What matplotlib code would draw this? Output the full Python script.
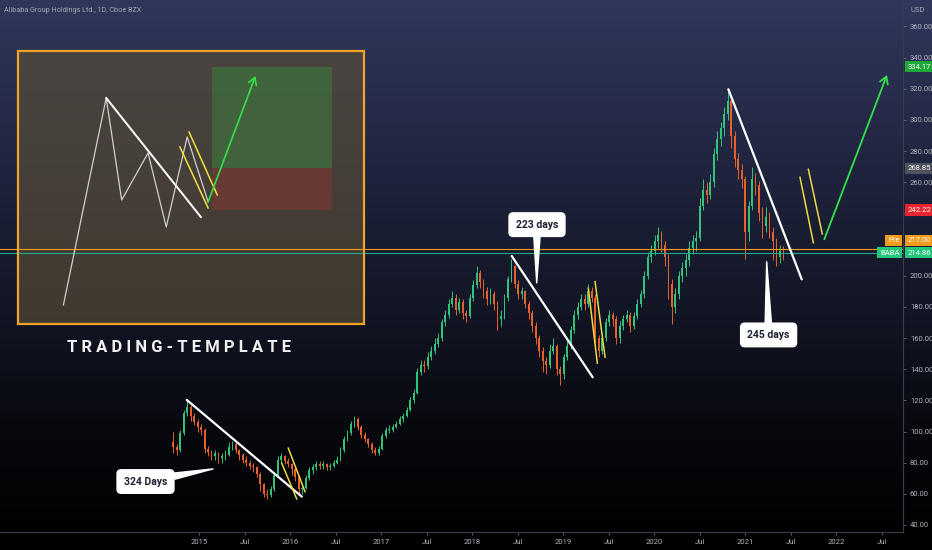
import numpy as np
import pandas as pd
import matplotlib
matplotlib.use("Agg")
import matplotlib.pyplot as plt
from matplotlib.colors import LinearSegmentedColormap
from matplotlib.patches import Rectangle
import matplotlib.transforms as mtransforms

plt.rcParams['font.family'] = ['Roboto', 'DejaVu Sans']

# ---------------- data ----------------
title = "Alibaba Group Holdings Ltd., 1D, Cboe BZX"
dates = pd.date_range("2014-09-19", periods=176, freq="14D")
first_open = 93.0
closes = [90, 88, 99, 112, 116, 110, 106, 103, 101, 89,
          87, 84, 86, 83, 84, 85, 90, 92, 88, 85,
          82, 80, 78, 77, 73, 66, 60, 59, 63, 72,
          82, 84, 81, 79, 76, 71, 63, 64, 70, 75,
          77, 79, 78, 79, 77, 78, 80, 82, 88, 95,
          99, 105, 108, 103, 98, 95, 92, 88, 86, 89,
          97, 101, 101, 103, 105, 108, 110, 114, 120, 125,
          138, 143, 142, 148, 152, 156, 160, 170, 175, 182,
          186, 178, 183, 176, 174, 186, 194, 202, 196, 190,
          185, 188, 182, 172, 174, 186, 198, 206, 195, 188,
          190, 182, 176, 168, 160, 152, 145, 143, 152, 155,
          140, 137, 148, 155, 165, 175, 180, 185, 182, 190,
          186, 160, 152, 160, 170, 175, 172, 160, 168, 172,
          175, 168, 174, 182, 188, 200, 212, 216, 222, 226,
          220, 212, 195, 180, 188, 200, 205, 210, 218, 222,
          224, 245, 255, 252, 260, 278, 288, 295, 304, 312,
          290, 275, 268, 262, 228, 245, 262, 258, 240, 232,
          238, 228, 222, 212, 216, 214.86]
highs = [100, 92, 101, 114, 120, 117, 112, 108, 105, 102,
         91, 88, 88, 87, 86, 88, 93, 94, 93, 89,
         86, 84, 82, 80, 78, 74, 67, 63, 65, 74,
         84, 86, 85, 83, 80, 77, 72, 67, 72, 77,
         79, 81, 81, 81, 80, 80, 82, 84, 90, 97,
         101, 107, 110, 109, 104, 100, 96, 93, 90, 91,
         99, 103, 104, 105, 107, 110, 112, 116, 122, 127,
         141, 146, 146, 151, 155, 160, 163, 172, 178, 185,
         190, 188, 186, 185, 178, 188, 197, 206, 204, 198,
         193, 192, 190, 184, 178, 188, 200, 211, 207, 197,
         193, 191, 184, 178, 170, 162, 154, 148, 156, 160,
         156, 142, 150, 158, 168, 178, 183, 188, 188, 195,
         193, 188, 162, 163, 173, 178, 177, 174, 171, 175,
         178, 177, 177, 185, 191, 203, 215, 220, 226, 231,
         229, 222, 214, 198, 192, 203, 209, 214, 222, 226,
         229, 250, 262, 260, 265, 282, 293, 299, 308, 319,
         314, 293, 279, 272, 264, 248, 270, 266, 261, 244,
         244, 241, 231, 224, 220, 219]
lows = [86, 85, 87, 98, 110, 107, 104, 100, 98, 86,
        84, 82, 82, 80, 80, 82, 84, 88, 86, 82,
        80, 78, 76, 74, 71, 62, 58, 57, 58, 62,
        71, 80, 79, 77, 72, 68, 59, 60, 63, 69,
        73, 75, 76, 76, 75, 75, 77, 79, 81, 87,
        94, 98, 103, 101, 96, 93, 90, 86, 85, 85,
        88, 96, 99, 100, 102, 104, 106, 109, 113, 118,
        124, 136, 138, 140, 146, 150, 154, 158, 168, 173,
        180, 175, 176, 172, 170, 173, 184, 192, 192, 186,
        181, 182, 178, 165, 168, 172, 184, 196, 192, 185,
        185, 179, 172, 164, 156, 148, 138, 137, 141, 150,
        136, 130, 134, 146, 153, 163, 172, 178, 178, 180,
        183, 155, 148, 150, 158, 168, 168, 156, 157, 165,
        170, 164, 166, 172, 180, 186, 198, 209, 213, 218,
        215, 206, 185, 169, 176, 185, 196, 200, 206, 214,
        216, 222, 242, 247, 249, 257, 274, 283, 290, 300,
        282, 270, 262, 256, 211, 222, 242, 252, 235, 224,
        228, 224, 210, 206, 208, 210]

price_ticks = list(range(40, 361, 20))
hidden_price_labels = [220, 240]   # covered by the price tags in the reference
time_ticks = [2015, 2015.5, 2016, 2016.5, 2017, 2017.5, 2018, 2018.5,
              2019, 2019.5, 2020, 2020.5, 2021, 2021.5, 2022, 2022.5]
time_labels = ["2015", "Jul", "2016", "Jul", "2017", "Jul", "2018", "Jul",
               "2019", "Jul", "2020", "Jul", "2021", "Jul", "2022", "Jul"]

# price tags (right scale)
target_price = 334.17
entry_price = 268.85
stop_price = 242.22
pre_price = 217.00
last_price = 214.86
symbol = "BABA"

# drawings (decimal year, price)
trend_lines = [([2014.865, 2016.129], [120.3, 58.2]),
               ([2018.436, 2019.326], [212.7, 134.8]),
               ([2020.817, 2021.623], [319.7, 197.7])]
yellow_lines = [([2015.909, 2016.074], [79.6, 56.7]),
                ([2015.981, 2016.165], [89.3, 61.4]),
                ([2019.278, 2019.377], [192.0, 143.8]),
                ([2019.352, 2019.462], [196.2, 147.7]),
                ([2021.604, 2021.751], [263.2, 221.2]),
                ([2021.696, 2021.849], [268.3, 226.8])]
big_arrow = ([2021.871, 2022.560], [223.4, 328.9])

callouts = [("324 Days", (2014.412, 67.9), (2015.154, 76.0)),
            ("223 days", (2018.714, 232.8), (2018.711, 195.4)),
            ("245 days", (2021.259, 162.0), (2021.238, 209.0))]

# trading template
tmpl_t = [2013.01, 2016.81]
tmpl_p = [169.0, 344.3]
tmpl_path_t = [2013.51, 2013.98, 2014.15, 2014.44, 2014.64, 2014.87, 2015.10]
tmpl_path_p = [181.3, 314.1, 248.6, 278.8, 231.3, 289.1, 247.4]
tmpl_trend = ([2013.98, 2015.02], [314.1, 237.7])
tmpl_yellow = [([2014.79, 2015.10], [282.7, 243.5]),
               ([2014.89, 2015.20], [292.3, 251.9])]
tmpl_arrow = ([2015.10, 2015.62], [247.4, 328.2])
tmpl_pos_t = [2015.14, 2016.46]
tmpl_label = "T R A D I N G - T E M P L A T E"
tmpl_label_pos = (2014.78, 154.0)

# ---------------- figure ----------------
W, H = 932, 550
fig = plt.figure(figsize=(W / 100, H / 100), dpi=100)

bg = fig.add_axes([0, 0, 1, 1], zorder=-10)
bg.axis('off')
cmap = LinearSegmentedColormap.from_list(
    'bg', [(0.0, '#30375c'), (0.45, '#181c30'), (0.8, '#07080d'), (1.0, '#000000')])
grad = np.linspace(0, 1, 256).reshape(-1, 1)
bg.imshow(grad, cmap=cmap, aspect='auto', extent=(0, 1, 0, 1), origin='upper')
bg.set_xlim(0, 1)
bg.set_ylim(0, 1)

ax = fig.add_axes([0, 18 / H, 903 / W, 532 / H], zorder=1)
ax.set_facecolor('none')
ax.set_xlim(2012.813, 2022.736)
ax.set_ylim(35.5, 377.0)

# candles
tyear = np.array([d.year + (d.dayofyear - 1) / (366 if d.is_leap_year else 365) for d in dates])
opens = [first_open] + closes[:-1]
up_c, dn_c = '#33c27a', '#e8602c'
for t, o, h, l, c in zip(tyear, opens, highs, lows, closes):
    col = up_c if c >= o else dn_c
    ax.vlines(t, min(l, o, c), max(h, o, c), color=col, lw=0.7, zorder=3)
    ax.bar(t, max(abs(c - o), 0.4), bottom=min(o, c), width=0.02, color=col,
           lw=0, zorder=3)

# horizontal price lines
ax.axhline(pre_price, color='#f59a1e', lw=0.8, zorder=6)
ax.axhline(last_price, color='#1fa98a', lw=0.8, zorder=6)

# template
ax.add_patch(Rectangle((tmpl_t[0], tmpl_p[0]), tmpl_t[1] - tmpl_t[0], tmpl_p[1] - tmpl_p[0],
                       facecolor='#5e5137', alpha=0.62, edgecolor='none', zorder=4))
ax.add_patch(Rectangle((tmpl_t[0], tmpl_p[0]), tmpl_t[1] - tmpl_t[0], tmpl_p[1] - tmpl_p[0],
                       facecolor='none', edgecolor='#f2a32a', lw=1.6, zorder=7))
ax.add_patch(Rectangle((tmpl_pos_t[0], entry_price), tmpl_pos_t[1] - tmpl_pos_t[0],
                       target_price - entry_price, facecolor='#3f6a3c', alpha=0.85,
                       edgecolor='none', zorder=5))
ax.add_patch(Rectangle((tmpl_pos_t[0], stop_price), tmpl_pos_t[1] - tmpl_pos_t[0],
                       entry_price - stop_price, facecolor='#6e3a33', alpha=0.85,
                       edgecolor='none', zorder=5))
ax.plot(tmpl_path_t, tmpl_path_p, color='#cfcfcf', lw=0.9, zorder=8)
ax.plot(*tmpl_trend, color='white', lw=1.4, zorder=8)
for lt, lp in tmpl_yellow:
    ax.plot(lt, lp, color='#f2e03c', lw=1.1, zorder=8)
ax.annotate('', xy=(tmpl_arrow[0][1], tmpl_arrow[1][1]),
            xytext=(tmpl_arrow[0][0], tmpl_arrow[1][0]),
            arrowprops=dict(arrowstyle='->,head_length=0.5,head_width=0.3',
                            color='#33e04a', lw=1.2, shrinkA=0, shrinkB=0), zorder=8)
ax.text(*tmpl_label_pos, tmpl_label, color='#f2f2f2', fontsize=12, fontweight='bold',
        ha='center', va='center', zorder=8)

# main drawings
for lt, lp in trend_lines:
    ax.plot(lt, lp, color='white', lw=1.6, zorder=8, solid_capstyle='round')
for lt, lp in yellow_lines:
    ax.plot(lt, lp, color='#ecd841', lw=1.1, zorder=8)
ax.annotate('', xy=(big_arrow[0][1], big_arrow[1][1]),
            xytext=(big_arrow[0][0], big_arrow[1][0]),
            arrowprops=dict(arrowstyle='->,head_length=0.5,head_width=0.3',
                            color='#33e04a', lw=1.3, shrinkA=0, shrinkB=0), zorder=8)

for label, pos, tip in callouts:
    ax.annotate(label, xy=tip, xytext=pos, ha='center', va='center',
                fontsize=7.5, fontweight='bold', color='#1c2030', zorder=9,
                bbox=dict(boxstyle='round,pad=0.65,rounding_size=0.4', fc='white', ec='white'),
                arrowprops=dict(arrowstyle='wedge,tail_width=0.6,shrink_factor=0.5',
                                fc='white', ec='white', shrinkA=0, shrinkB=0))

# axes styling
for s in ['top', 'left']:
    ax.spines[s].set_visible(False)
ax.spines['right'].set_color('#3a3e4a')
ax.spines['bottom'].set_color('#3a3e4a')
ax.spines['right'].set_linewidth(0.8)
ax.spines['bottom'].set_linewidth(0.8)
ax.yaxis.tick_right()
ax.set_yticks(price_ticks)
ax.set_yticklabels(["" if v in hidden_price_labels else f"{v:.2f}" for v in price_ticks])
ax.set_xticks(time_ticks)
ax.set_xticklabels(time_labels)
ax.tick_params(axis='y', colors='#6a6e7a', labelcolor='#b2b5be', labelsize=5.5,
               length=2, pad=3, width=0.6)
ax.tick_params(axis='x', colors='#6a6e7a', labelcolor='#b2b5be', labelsize=5.5,
               length=2, pad=3, width=0.6)

# price tags
blend = mtransforms.blended_transform_factory(ax.transAxes, ax.transData)
tag_box = dict(boxstyle='square,pad=0.35', lw=0)
def tag(val, fc, tc='white', dy=0.0):
    ax.annotate(f"{val:.2f}", xy=(1.0, val), xycoords=blend, xytext=(3.5, dy),
                textcoords='offset points', ha='left', va='center', fontsize=5.5,
                color=tc, annotation_clip=False, zorder=10,
                bbox=dict(tag_box, fc=fc))

tag(target_price, '#1fa83a')
tag(entry_price, '#4e515c')
tag(stop_price, '#e8222e')
tag(pre_price, '#f29b1a', dy=6.5)
tag(last_price, '#22c77a')
ax.annotate("Pre", xy=(1.0, pre_price), xycoords=blend, xytext=(-2.5, 6.5),
            textcoords='offset points', ha='right', va='center', fontsize=5.5,
            color='white', annotation_clip=False, zorder=10, bbox=dict(tag_box, fc='#f29b1a'))
ax.annotate(symbol, xy=(1.0, last_price), xycoords=blend, xytext=(-2.5, 0),
            textcoords='offset points', ha='right', va='center', fontsize=5.5,
            color='white', annotation_clip=False, zorder=10, bbox=dict(tag_box, fc='#22c77a'))

fig.text(4 / W, 1 - 11 / H, title, color='#a3a6b0', fontsize=5.2, ha='left', va='center')
fig.text(918 / W, 1 - 10 / H, "USD", color='#a3a6b0', fontsize=5.5, ha='center', va='center')

fig.savefig("out.png", dpi=100)
